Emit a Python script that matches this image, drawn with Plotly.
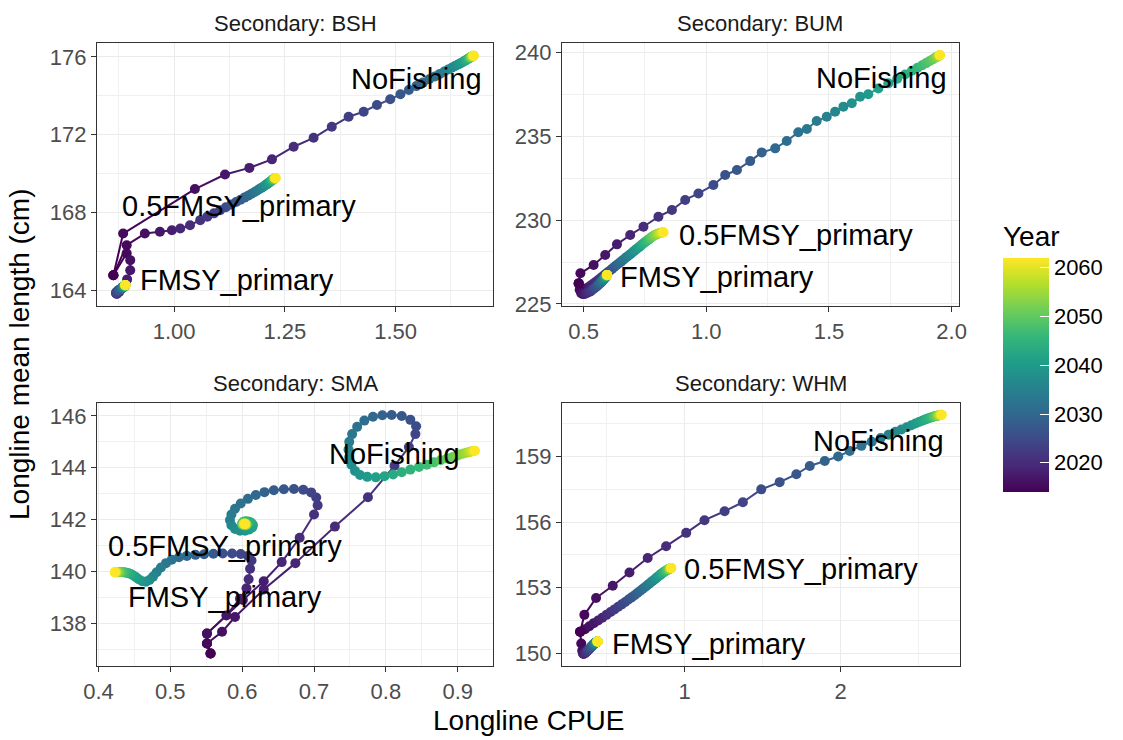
import plotly.graph_objects as go
from plotly.colors import sample_colorscale

# ---------------------------------------------------------------- data
years = list(range(2014, 2063))

# Secondary: BSH
bsh_nof_cpue = [0.863, 0.885, 1.047, 1.115, 1.170, 1.221, 1.270, 1.315, 1.356, 1.394,
                1.428, 1.458, 1.488, 1.511, 1.530, 1.547, 1.562, 1.576, 1.589, 1.600,
                1.610, 1.619, 1.627, 1.634, 1.640, 1.645, 1.650, 1.654, 1.657, 1.660,
                1.662, 1.664, 1.666, 1.667, 1.668, 1.669, 1.670, 1.671, 1.672, 1.672,
                1.673, 1.673, 1.674, 1.674, 1.675, 1.675, 1.676, 1.676, 1.677]
bsh_nof_len = [164.76, 166.91, 169.20, 169.95, 170.29, 170.73, 171.38, 171.84, 172.41, 172.92,
               173.18, 173.53, 173.82, 174.08, 174.30, 174.50, 174.68, 174.85, 175.00, 175.13,
               175.25, 175.36, 175.45, 175.53, 175.60, 175.66, 175.72, 175.77, 175.81, 175.85,
               175.88, 175.91, 175.93, 175.95, 175.97, 175.98, 175.99, 176.00, 176.01, 176.02,
               176.03, 176.03, 176.04, 176.05, 176.05, 176.06, 176.06, 176.07, 176.07]
bsh_half_cpue = [0.863, 0.893, 0.934, 0.968, 0.995, 1.014, 1.036, 1.059, 1.075, 1.090,
                 1.104, 1.117, 1.129, 1.140, 1.150, 1.159, 1.167, 1.174, 1.181, 1.187,
                 1.192, 1.197, 1.201, 1.205, 1.208, 1.211, 1.214, 1.216, 1.218, 1.220,
                 1.221, 1.222, 1.223, 1.224, 1.225, 1.225, 1.226, 1.226, 1.227, 1.227,
                 1.227, 1.228, 1.228, 1.228, 1.228, 1.228, 1.229, 1.229, 1.229]
bsh_half_len = [164.76, 166.31, 166.91, 167.00, 167.08, 167.17, 167.34, 167.60, 167.78, 167.95,
                168.11, 168.26, 168.40, 168.53, 168.65, 168.76, 168.86, 168.95, 169.04, 169.12,
                169.19, 169.26, 169.32, 169.38, 169.43, 169.48, 169.52, 169.56, 169.59, 169.62,
                169.65, 169.67, 169.69, 169.70, 169.71, 169.72, 169.73, 169.74, 169.74, 169.75,
                169.75, 169.75, 169.76, 169.76, 169.76, 169.76, 169.76, 169.77, 169.77]
bsh_fmsy_cpue = [0.863, 0.893, 0.901, 0.901, 0.894, 0.884, 0.876, 0.871, 0.869, 0.869,
                 0.870, 0.872, 0.874, 0.876, 0.878, 0.880, 0.882, 0.883, 0.884, 0.885,
                 0.885, 0.886, 0.886, 0.887, 0.887, 0.887, 0.888, 0.888, 0.888, 0.888,
                 0.889, 0.889, 0.889, 0.889, 0.889, 0.889, 0.889, 0.890, 0.890, 0.890,
                 0.890, 0.890, 0.890, 0.890, 0.890, 0.890, 0.890, 0.890, 0.890]
bsh_fmsy_len = [164.76, 165.90, 165.54, 165.02, 164.55, 164.15, 163.90, 163.80, 163.82, 163.86,
                163.90, 163.94, 163.98, 164.01, 164.04, 164.06, 164.08, 164.10, 164.12, 164.14,
                164.15, 164.16, 164.17, 164.18, 164.19, 164.20, 164.21, 164.21, 164.22, 164.22,
                164.23, 164.23, 164.23, 164.24, 164.24, 164.24, 164.24, 164.25, 164.25, 164.25,
                164.25, 164.25, 164.25, 164.25, 164.26, 164.26, 164.26, 164.26, 164.26]

# Secondary: BUM
bum_nof_cpue = [0.480, 0.487, 0.541, 0.588, 0.636, 0.690, 0.744, 0.805, 0.860, 0.914,
                0.968, 1.029, 1.077, 1.125, 1.179, 1.226, 1.281, 1.328, 1.375, 1.410,
                1.450, 1.491, 1.525, 1.559, 1.593, 1.627, 1.660, 1.701, 1.742, 1.778,
                1.810, 1.838, 1.861, 1.880, 1.896, 1.909, 1.920, 1.928, 1.935, 1.940,
                1.944, 1.946, 1.948, 1.949, 1.950, 1.951, 1.951, 1.952, 1.952]
bum_nof_len = [226.23, 226.83, 227.33, 227.92, 228.56, 229.12, 229.61, 230.21, 230.61, 231.21,
               231.60, 232.10, 232.70, 233.00, 233.53, 234.05, 234.29, 234.73, 235.25, 235.45,
               235.92, 236.18, 236.48, 236.78, 236.98, 237.37, 237.52, 237.87, 238.17, 238.45,
               238.70, 238.92, 239.10, 239.25, 239.38, 239.49, 239.58, 239.65, 239.71, 239.75,
               239.78, 239.80, 239.82, 239.83, 239.84, 239.85, 239.85, 239.86, 239.86]
bum_half_cpue = [0.480, 0.492, 0.503, 0.514, 0.525, 0.536, 0.547, 0.558, 0.568, 0.578,
                 0.588, 0.598, 0.608, 0.617, 0.626, 0.635, 0.644, 0.653, 0.661, 0.669,
                 0.677, 0.685, 0.693, 0.700, 0.707, 0.714, 0.721, 0.728, 0.734, 0.740,
                 0.746, 0.752, 0.758, 0.764, 0.769, 0.774, 0.779, 0.784, 0.789, 0.794,
                 0.799, 0.803, 0.807, 0.811, 0.815, 0.818, 0.821, 0.824, 0.826]
bum_half_len = [226.23, 225.95, 225.88, 225.95, 226.06, 226.18, 226.30, 226.42, 226.54, 226.66,
                226.78, 226.89, 227.00, 227.11, 227.22, 227.33, 227.43, 227.53, 227.63, 227.73,
                227.82, 227.91, 228.00, 228.09, 228.18, 228.26, 228.34, 228.42, 228.50, 228.57,
                228.64, 228.71, 228.78, 228.84, 228.90, 228.96, 229.01, 229.06, 229.10, 229.14,
                229.17, 229.20, 229.22, 229.24, 229.25, 229.26, 229.27, 229.27, 229.28]
bum_fmsy_cpue = [0.480, 0.484, 0.490, 0.497, 0.504, 0.511, 0.518, 0.525, 0.531, 0.537,
                 0.543, 0.548, 0.553, 0.558, 0.562, 0.566, 0.570, 0.573, 0.576, 0.579,
                 0.581, 0.583, 0.585, 0.587, 0.588, 0.589, 0.590, 0.591, 0.592, 0.593,
                 0.593, 0.594, 0.594, 0.594, 0.595, 0.595, 0.595, 0.595, 0.595, 0.596,
                 0.596, 0.596, 0.596, 0.596, 0.596, 0.596, 0.596, 0.596, 0.596]
bum_fmsy_len = [226.23, 225.85, 225.65, 225.59, 225.60, 225.64, 225.69, 225.74, 225.80, 225.86,
                225.92, 225.98, 226.04, 226.10, 226.16, 226.22, 226.27, 226.32, 226.37, 226.41,
                226.45, 226.49, 226.52, 226.55, 226.58, 226.60, 226.62, 226.64, 226.65, 226.67,
                226.68, 226.69, 226.70, 226.70, 226.71, 226.71, 226.72, 226.72, 226.72, 226.72,
                226.73, 226.73, 226.73, 226.73, 226.73, 226.73, 226.73, 226.73, 226.73]

# Secondary: SMA
sma_nof_cpue = [0.556, 0.551, 0.572, 0.590, 0.630, 0.674, 0.729, 0.775, 0.812, 0.832,
                0.841, 0.842, 0.834, 0.822, 0.808, 0.795, 0.782, 0.770, 0.760, 0.753,
                0.749, 0.748, 0.749, 0.752, 0.757, 0.764, 0.774, 0.786, 0.798, 0.810,
                0.822, 0.834, 0.846, 0.857, 0.867, 0.876, 0.885, 0.893, 0.899, 0.904,
                0.908, 0.912, 0.915, 0.917, 0.919, 0.921, 0.922, 0.923, 0.924]
sma_nof_len = [136.83, 137.22, 137.67, 138.24, 139.30, 140.32, 141.73, 142.86, 144.08, 144.80,
               145.30, 145.60, 145.85, 146.00, 146.04, 146.03, 145.97, 145.82, 145.58, 145.30,
               145.00, 144.70, 144.40, 144.12, 143.88, 143.72, 143.65, 143.63, 143.67, 143.74,
               143.83, 143.93, 144.03, 144.12, 144.21, 144.29, 144.36, 144.42, 144.47, 144.52,
               144.55, 144.58, 144.60, 144.62, 144.63, 144.64, 144.65, 144.65, 144.66]
sma_half_cpue = [0.556, 0.551, 0.551, 0.601, 0.630, 0.655, 0.680, 0.700, 0.705, 0.703,
                 0.696, 0.685, 0.672, 0.658, 0.644, 0.631, 0.619, 0.608, 0.598, 0.590,
                 0.585, 0.583, 0.585, 0.590, 0.597, 0.604, 0.610, 0.614, 0.615, 0.613,
                 0.610, 0.606, 0.603, 0.601, 0.600, 0.600, 0.601, 0.603, 0.605, 0.606,
                 0.606, 0.605, 0.604, 0.603, 0.602, 0.602, 0.603, 0.604, 0.604]
sma_half_len = [136.83, 137.22, 137.60, 138.90, 139.62, 140.36, 141.30, 142.20, 142.55, 142.85,
                143.05, 143.15, 143.18, 143.17, 143.13, 143.06, 142.95, 142.80, 142.62, 142.42,
                142.20, 141.98, 141.78, 141.64, 141.57, 141.57, 141.62, 141.70, 141.79, 141.87,
                141.92, 141.94, 141.93, 141.90, 141.86, 141.82, 141.79, 141.78, 141.78, 141.80,
                141.82, 141.84, 141.85, 141.85, 141.84, 141.83, 141.82, 141.82, 141.83]
sma_fmsy_cpue = [0.556, 0.551, 0.551, 0.578, 0.597, 0.606, 0.609, 0.611, 0.613, 0.608,
                 0.598, 0.586, 0.573, 0.560, 0.547, 0.535, 0.523, 0.512, 0.502, 0.494,
                 0.487, 0.481, 0.476, 0.471, 0.466, 0.461, 0.456, 0.452, 0.448, 0.445,
                 0.442, 0.439, 0.437, 0.435, 0.433, 0.431, 0.430, 0.429, 0.428, 0.427,
                 0.426, 0.425, 0.425, 0.424, 0.424, 0.424, 0.423, 0.423, 0.423]
sma_fmsy_len = [136.83, 137.22, 137.60, 138.30, 138.95, 139.35, 139.70, 140.10, 140.42, 140.60,
                140.67, 140.69, 140.69, 140.68, 140.66, 140.64, 140.60, 140.55, 140.45, 140.32,
                140.15, 139.97, 139.80, 139.67, 139.60, 139.62, 139.70, 139.78, 139.85, 139.90,
                139.93, 139.95, 139.96, 139.97, 139.97, 139.98, 139.97, 139.97, 139.98, 139.97,
                139.97, 139.98, 139.97, 139.97, 139.97, 139.98, 139.97, 139.97, 139.97]

# Secondary: WHM
whm_nof_cpue = [0.331, 0.358, 0.433, 0.540, 0.647, 0.764, 0.882, 1.011, 1.128, 1.257,
                1.374, 1.492, 1.610, 1.717, 1.803, 1.899, 1.985, 2.059, 2.134, 2.200,
                2.258, 2.308, 2.352, 2.390, 2.424, 2.454, 2.480, 2.503, 2.523, 2.541,
                2.556, 2.569, 2.580, 2.590, 2.598, 2.605, 2.611, 2.616, 2.621, 2.625,
                2.629, 2.632, 2.635, 2.638, 2.640, 2.643, 2.645, 2.647, 2.649]
whm_nof_len = [150.99, 151.76, 152.53, 153.09, 153.70, 154.36, 154.90, 155.51, 156.09, 156.50,
               156.91, 157.50, 157.83, 158.19, 158.57, 158.80, 159.00, 159.26, 159.49, 159.68,
               159.85, 160.00, 160.13, 160.24, 160.34, 160.43, 160.51, 160.58, 160.64, 160.69,
               160.73, 160.76, 160.79, 160.81, 160.83, 160.84, 160.85, 160.86, 160.87, 160.88,
               160.88, 160.89, 160.89, 160.90, 160.90, 160.90, 160.91, 160.91, 160.91]
whm_half_cpue = [0.331, 0.362, 0.390, 0.418, 0.446, 0.473, 0.500, 0.526, 0.551, 0.575,
                 0.598, 0.620, 0.641, 0.661, 0.680, 0.698, 0.715, 0.731, 0.746, 0.760,
                 0.773, 0.785, 0.797, 0.808, 0.818, 0.828, 0.837, 0.845, 0.853, 0.860,
                 0.867, 0.873, 0.879, 0.884, 0.889, 0.893, 0.897, 0.900, 0.903, 0.905,
                 0.907, 0.909, 0.910, 0.911, 0.912, 0.913, 0.914, 0.914, 0.915]
whm_half_len = [150.99, 151.10, 151.24, 151.38, 151.50, 151.63, 151.76, 151.89, 152.01, 152.13,
                152.24, 152.35, 152.46, 152.56, 152.66, 152.76, 152.85, 152.94, 153.02, 153.10,
                153.18, 153.25, 153.32, 153.38, 153.44, 153.50, 153.55, 153.60, 153.64, 153.68,
                153.71, 153.74, 153.77, 153.79, 153.81, 153.83, 153.84, 153.85, 153.86, 153.87,
                153.88, 153.88, 153.89, 153.89, 153.89, 153.90, 153.90, 153.90, 153.90]
whm_fmsy_cpue = [0.331, 0.338, 0.344, 0.349, 0.353, 0.359, 0.365, 0.371, 0.377, 0.383,
                 0.389, 0.394, 0.399, 0.404, 0.408, 0.412, 0.416, 0.419, 0.422, 0.425,
                 0.427, 0.429, 0.431, 0.433, 0.434, 0.435, 0.436, 0.437, 0.438, 0.439,
                 0.439, 0.440, 0.440, 0.441, 0.441, 0.441, 0.442, 0.442, 0.442, 0.442,
                 0.443, 0.443, 0.443, 0.443, 0.443, 0.443, 0.443, 0.443, 0.443]
whm_fmsy_len = [150.99, 150.45, 150.12, 149.99, 149.97, 149.99, 150.03, 150.07, 150.11, 150.15,
                150.19, 150.23, 150.27, 150.31, 150.34, 150.37, 150.40, 150.42, 150.44, 150.46,
                150.47, 150.48, 150.49, 150.50, 150.51, 150.51, 150.52, 150.52, 150.52, 150.53,
                150.53, 150.53, 150.53, 150.53, 150.54, 150.54, 150.54, 150.54, 150.54, 150.54,
                150.54, 150.54, 150.54, 150.54, 150.54, 150.54, 150.54, 150.54, 150.54]

scenarios = ["0.5FMSY_primary", "FMSY_primary", "NoFishing"]
stocks = ["BSH", "BUM", "SMA", "WHM"]

series = {
    "BSH": {"0.5FMSY_primary": (bsh_half_cpue, bsh_half_len),
            "FMSY_primary": (bsh_fmsy_cpue, bsh_fmsy_len),
            "NoFishing": (bsh_nof_cpue, bsh_nof_len)},
    "BUM": {"0.5FMSY_primary": (bum_half_cpue, bum_half_len),
            "FMSY_primary": (bum_fmsy_cpue, bum_fmsy_len),
            "NoFishing": (bum_nof_cpue, bum_nof_len)},
    "SMA": {"0.5FMSY_primary": (sma_half_cpue, sma_half_len),
            "FMSY_primary": (sma_fmsy_cpue, sma_fmsy_len),
            "NoFishing": (sma_nof_cpue, sma_nof_len)},
    "WHM": {"0.5FMSY_primary": (whm_half_cpue, whm_half_len),
            "FMSY_primary": (whm_fmsy_cpue, whm_fmsy_len),
            "NoFishing": (whm_nof_cpue, whm_nof_len)},
}

# ---------------------------------------------------------------- layout helpers
W, H = 1123, 740
FONT = "Liberation Sans, Arial, Helvetica, sans-serif"
Y0, Y1 = min(years), max(years)

axis_ids = {"BSH": ("x", "y"), "BUM": ("x2", "y2"), "SMA": ("x3", "y3"), "WHM": ("x4", "y4")}

# panel boxes in pixels: left, right, top, bottom
boxes = {"BSH": (97, 493, 43, 306), "BUM": (562, 959, 43, 306),
         "SMA": (97, 493, 403, 666), "WHM": (562, 960, 403, 666)}

axis_setup = {
    "BSH": dict(xr=[0.826, 1.72], xd=0.25, xm=0.125, xf=".2f",
                yr=[163.18, 176.72], yd=4, ym=2, y0=164),
    "BUM": dict(xr=[0.412, 2.03], xd=0.5, xm=0.25, xf=".1f",
                yr=[224.88, 240.58], yd=5, ym=2.5, y0=225),
    "SMA": dict(xr=[0.398, 0.949], xd=0.1, xm=0.05, xf=".1f",
                yr=[136.35, 146.5], yd=2, ym=1, y0=138),
    "WHM": dict(xr=[0.2146, 2.766], xd=1, xm=0.5, xf="d",
                yr=[149.42, 161.45], yd=3, ym=1.5, y0=150),
}

label_pos = {
    "BSH": {"NoFishing": (1.548, 174.87), "0.5FMSY_primary": (1.147, 168.33),
            "FMSY_primary": (1.142, 164.51)},
    "BUM": {"NoFishing": (1.715, 238.47), "0.5FMSY_primary": (1.364, 229.12),
            "FMSY_primary": (1.043, 226.63)},
    "SMA": {"NoFishing": (0.8125, 144.53), "0.5FMSY_primary": (0.5764, 141.0),
            "FMSY_primary": (0.5764, 139.01)},
    "WHM": {"NoFishing": (2.2415, 159.72), "0.5FMSY_primary": (1.7495, 153.86),
            "FMSY_primary": (1.155, 150.42)},
}


def year_colour(yr):
    return sample_colorscale("Viridis", [(yr - Y0) / (Y1 - Y0)])[0]


fig = go.Figure()

# paths: one segment per year step, coloured by the starting year
for stock in stocks:
    xa, ya = axis_ids[stock]
    for sc in scenarios:
        cx, ly = series[stock][sc]
        for i in range(len(years) - 1):
            fig.add_trace(go.Scatter(
                x=[cx[i], cx[i + 1]], y=[ly[i], ly[i + 1]],
                mode="lines", xaxis=xa, yaxis=ya,
                line=dict(color=year_colour(years[i]), width=2),
                hoverinfo="skip", showlegend=False))

# points coloured by year on the shared colour axis
for stock in stocks:
    xa, ya = axis_ids[stock]
    for sc in scenarios:
        cx, ly = series[stock][sc]
        fig.add_trace(go.Scatter(
            x=cx, y=ly, mode="markers", xaxis=xa, yaxis=ya, name=sc,
            marker=dict(size=10, color=years, coloraxis="coloraxis", line=dict(width=0)),
            customdata=years, hovertemplate="%{customdata}<extra>" + sc + "</extra>",
            showlegend=False))

layout = dict(
    width=W, height=H,
    margin=dict(l=0, r=0, t=0, b=0, pad=0, autoexpand=False),
    paper_bgcolor="white", plot_bgcolor="white",
    font=dict(family=FONT, color="black"),
    showlegend=False,
    coloraxis=dict(
        colorscale="Viridis", cmin=Y0, cmax=Y1,
        colorbar=dict(
            title=dict(text="Year", side="top", font=dict(size=28, color="black")),
            x=1003 / W, xanchor="left", y=1 - 492 / H, yanchor="bottom",
            len=270 / H, lenmode="fraction", thickness=46, thicknessmode="pixels",
            outlinewidth=0, tickvals=[2020, 2030, 2040, 2050, 2060],
            ticks="inside", ticklen=9, tickcolor="white", tickwidth=1,
            tickprefix="\u00a0\u00a0",
            tickfont=dict(size=22, color="black"), xpad=0, ypad=0,
        ),
    ),
    annotations=[],
)

for stock in stocks:
    xa, ya = axis_ids[stock]
    l, r, t, b = boxes[stock]
    s = axis_setup[stock]
    xkey = "xaxis" + xa[1:]
    ykey = "yaxis" + ya[1:]
    common = dict(
        showgrid=True, gridcolor="#ebebeb", gridwidth=1.4, zeroline=False,
        showline=True, mirror=True, linecolor="#333333", linewidth=1.3,
        ticks="outside", ticklen=5, tickwidth=1.3, tickcolor="#333333",
        tickfont=dict(size=22, color="#4d4d4d", family=FONT),
    )
    layout[xkey] = dict(common, domain=[l / W, r / W], anchor=ya, range=s["xr"],
                        tick0=0, dtick=s["xd"], tickformat=s["xf"],
                        minor=dict(dtick=s["xm"], tick0=0, showgrid=True,
                                   gridcolor="#f0f0f0", gridwidth=0.8))
    layout[ykey] = dict(common, domain=[1 - b / H, 1 - t / H], anchor=xa, range=s["yr"],
                        tick0=s["y0"], dtick=s["yd"],
                        minor=dict(dtick=s["ym"], tick0=s["y0"], showgrid=True,
                                   gridcolor="#f0f0f0", gridwidth=0.8))
    # facet strip text
    layout["annotations"].append(dict(
        text="Secondary: " + stock, xref="paper", yref="paper",
        x=(l + r) / 2 / W, y=1 - (t - 20) / H, xanchor="center", yanchor="middle",
        showarrow=False, font=dict(size=22, color="#1a1a1a", family=FONT)))
    # scenario labels
    for sc in scenarios:
        lx, lyv = label_pos[stock][sc]
        layout["annotations"].append(dict(
            text=sc, x=lx, y=lyv, xref=xa, yref=ya, xanchor="center", yanchor="middle",
            showarrow=False, font=dict(size=29, color="black", family=FONT)))

# shared axis titles
layout["annotations"].append(dict(
    text="Longline CPUE", xref="paper", yref="paper", x=528 / W, y=1 - 720 / H,
    xanchor="center", yanchor="middle", showarrow=False,
    font=dict(size=28, color="black", family=FONT)))
layout["annotations"].append(dict(
    text="Longline mean length (cm)", xref="paper", yref="paper", x=19 / W, y=1 - 354 / H,
    xanchor="center", yanchor="middle", textangle=-90, showarrow=False,
    font=dict(size=28, color="black", family=FONT)))

fig.update_layout(**layout)
fig.write_html("out.html")
